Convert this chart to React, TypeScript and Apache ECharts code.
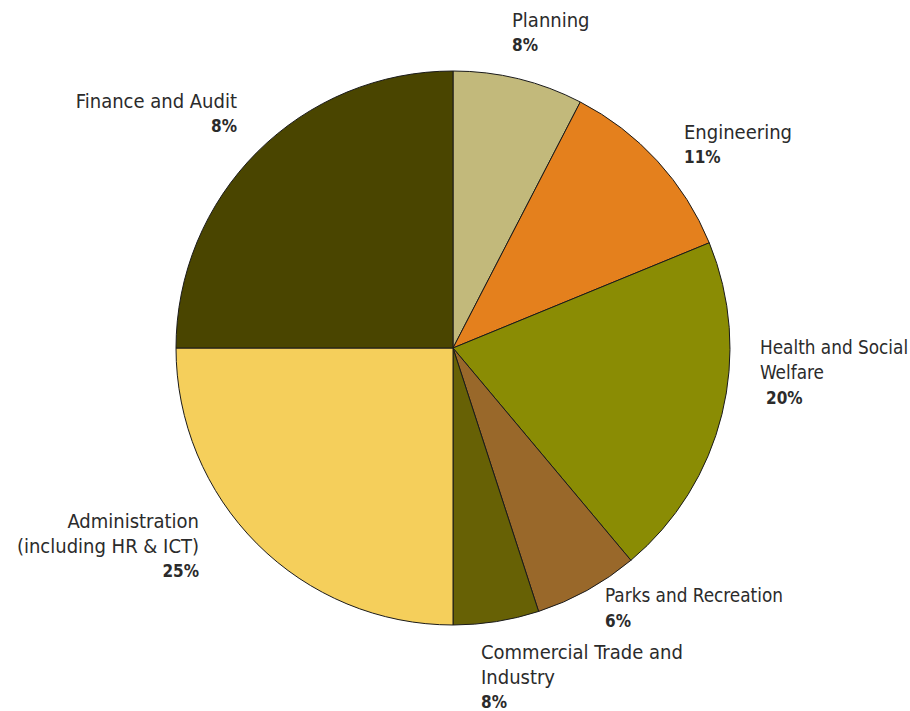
import React, { useEffect, useRef } from "react";
import * as echarts from "echarts";

const categories = [
  "Planning",
  "Engineering",
  "Health and Social\nWelfare",
  "Parks and Recreation",
  "Commercial Trade and\nIndustry",
  "Administration\n(including HR & ICT)",
  "Finance and Audit",
];
const sliceValues = [7.6, 11.2, 20.1, 6.1, 5.0, 25.0, 25.0];
const labelPercents = ["8%", "11%", "20%", "6%", "8%", "25%", "8%"];
const colors = ["#C2B97B", "#E4801D", "#8A8C04", "#99682A", "#676105", "#F5CF5B", "#4A4500"];

const labelPos = [
  { x: 512, y: 7, align: "left", narrow: false },
  { x: 684, y: 119, align: "left", narrow: false },
  { x: 760, y: 335, align: "left", narrow: true },
  { x: 605, y: 583, align: "left", narrow: true },
  { x: 481, y: 639, align: "left", narrow: false },
  { x: 199, y: 508, align: "right", narrow: false },
  { x: 237, y: 88, align: "right", narrow: false },
];

const FONT = "'Liberation Sans Narrow', 'DejaVu Sans Condensed', 'Liberation Sans', sans-serif";

export default function App() {
  const ref = useRef<HTMLDivElement>(null);
  useEffect(() => {
    const chart = echarts.init(ref.current!, null, { renderer: "svg" });
    chart.setOption({
      animation: false,
      backgroundColor: "#ffffff",
      series: [
        {
          type: "pie",
          center: [453, 348],
          radius: [0, 277],
          startAngle: 90,
          clockwise: true,
          avoidLabelOverlap: false,
          itemStyle: { borderColor: "#1a1a1a", borderWidth: 1 },
          labelLine: { show: false },
          label: {
            show: true,
            position: "outside",
            fontFamily: FONT,
            formatter: (p: any) => {
              const st = labelPos[p.dataIndex].narrow ? "m" : "n";
              const lines = String(p.name).split("\n").map((l) => `{${st}|${l}}`).join("\n");
              const pct = p.dataIndex === 2 ? `{pi|${labelPercents[p.dataIndex]}}` : `{p|${labelPercents[p.dataIndex]}}`;
              return `${lines}\n${pct}`;
            },
            rich: {
              n: { fontFamily: FONT, fontSize: 20, color: "#2b2b2b", lineHeight: 25 },
              m: { fontFamily: FONT, fontSize: 18.8, color: "#2b2b2b", lineHeight: 25 },
              p: { fontFamily: FONT, fontSize: 17, fontWeight: "bold", color: "#2b2b2b", lineHeight: 25 },
              pi: { fontFamily: FONT, fontSize: 17, fontWeight: "bold", color: "#2b2b2b", lineHeight: 25, padding: [0, 0, 0, 6] },
            },
          },
          labelLayout: (params: any) => {
            const pos = labelPos[params.dataIndex];
            return { x: pos.x, y: pos.y, align: pos.align, verticalAlign: "top", hideOverlap: false };
          },
          data: categories.map((name, i) => ({
            name,
            value: sliceValues[i],
            itemStyle: { color: colors[i] },
            label: { align: labelPos[i].align },
          })),
        },
      ],
    });
    return () => chart.dispose();
  }, []);
  return (
    <div
      ref={ref}
      style={{ position: "absolute", left: 0, top: 0, width: 910, height: 711 }}
    />
  );
}
